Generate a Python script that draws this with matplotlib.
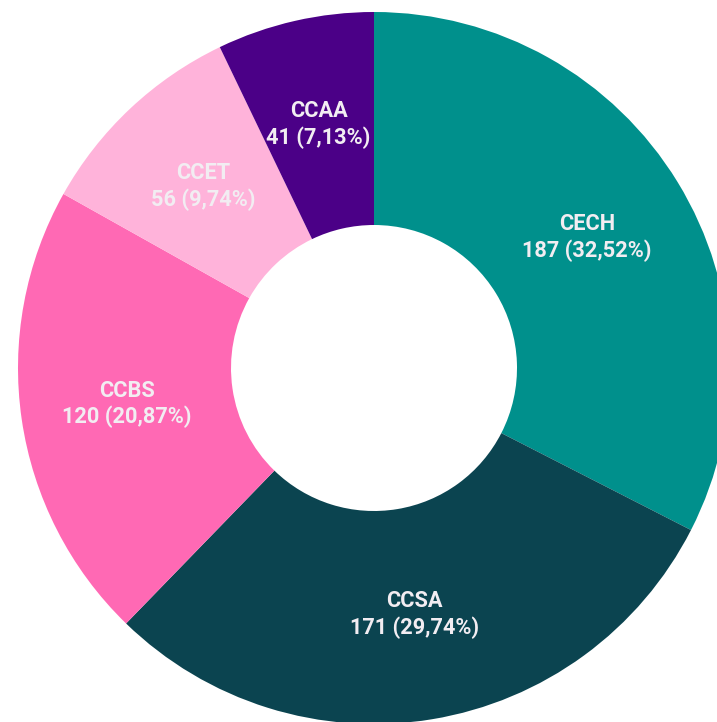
import matplotlib.pyplot as plt
import numpy as np

labels = ['CECH', 'CCSA', 'CCBS', 'CCET', 'CCAA']
values = [187, 171, 120, 56, 41]
pct_text = ['32,52%', '29,74%', '20,87%', '9,74%', '7,13%']
colors = ['#00908c', '#0b4450', '#ff69b4', '#ffb3da', '#4b0087']

fig = plt.figure(figsize=(7.17, 7.22), dpi=100)
ax = fig.add_axes([0, 0, 1, 1])

cx, cy = 374, 722 - 368
r_out, r_in = 356, 143

wedges, _ = ax.pie(values, colors=colors, startangle=90, counterclock=False,
                   radius=r_out, center=(cx, cy), frame=True,
                   wedgeprops=dict(width=r_out - r_in, linewidth=0))
ax.set_xlim(0, 717)
ax.set_ylim(0, 722)
ax.axis('off')

r_lab = (r_out + r_in) / 2
for w, lab, v, p in zip(wedges, labels, values, pct_text):
    ang = np.deg2rad((w.theta1 + w.theta2) / 2)
    x = cx + r_lab * np.cos(ang)
    y = cy + r_lab * np.sin(ang)
    ax.text(x, y, f'{lab}\n{v} ({p})', ha='center', va='center',
            color='#f2edf2', fontsize=15.7, fontweight='bold',
            family=['Roboto', 'DejaVu Sans'], linespacing=1.25)

fig.savefig('out.png', dpi=100)
